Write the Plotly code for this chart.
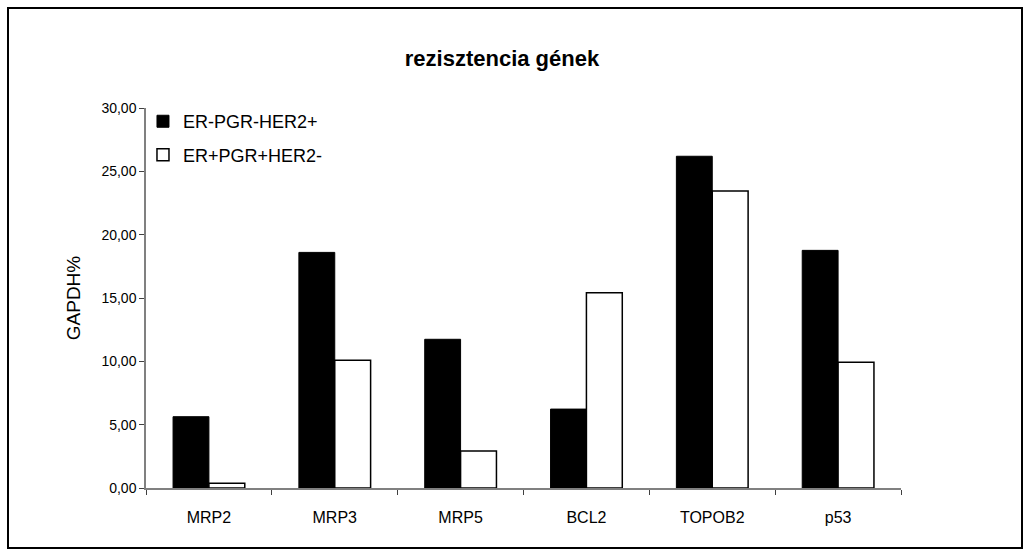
import plotly.graph_objects as go

# Gene expression relative to GAPDH, two receptor subgroups
genes = ["MRP2", "MRP3", "MRP5", "BCL2", "TOPOB2", "p53"]
er_neg_her2_pos = [5.63, 18.60, 11.74, 6.23, 26.19, 18.76]
er_pos_her2_neg = [0.37, 10.08, 2.92, 15.42, 23.45, 9.92]

FONT = "Liberation Sans, Arial, sans-serif"

fig = go.Figure()
fig.add_trace(go.Bar(
    x=genes, y=er_neg_her2_pos, name="ER-PGR-HER2+", legendgroup="a",
    marker=dict(color="black", line=dict(color="black", width=1)),
))
fig.add_trace(go.Bar(
    x=genes, y=er_pos_her2_neg, name="ER+PGR+HER2-", legendgroup="b",
    marker=dict(color="white", line=dict(color="black", width=1.5)),
))

fig.update_layout(
    width=1031, height=554,
    margin=dict(l=146, r=130, t=108, b=66),
    paper_bgcolor="white", plot_bgcolor="white",
    separators=", ",
    barmode="group", bargap=0.43, bargroupgap=0,
    font=dict(family=FONT, size=14, color="black"),
    title=dict(
        text="<b>rezisztencia gének</b>",
        x=502 / 1031, xanchor="center",
        y=1 - 58 / 554, yanchor="middle",
        font=dict(family=FONT, size=22, color="black"),
    ),
    showlegend=True,
    legend=dict(
        x=-0.004, y=1.013, xanchor="left", yanchor="top",
        bgcolor="rgba(0,0,0,0)", borderwidth=0,
        traceorder="grouped", tracegroupgap=7,
        font=dict(family=FONT, size=18, color="black"),
    ),
    xaxis=dict(
        showline=True, linecolor="#808080", linewidth=1.5,
        ticks="outside", ticklen=5, tickcolor="#404040",
        tickson="boundaries", showgrid=False,
        tickfont=dict(size=16), ticklabelstandoff=14,
    ),
    yaxis=dict(
        range=[0, 30], dtick=5, tickformat=".2f",
        showline=True, linecolor="#808080", linewidth=1.5,
        ticks="outside", ticklen=5, tickcolor="#404040",
        showgrid=False, zeroline=False,
        tickfont=dict(size=14),
        title=dict(text="GAPDH%", font=dict(family=FONT, size=19), standoff=16),
    ),
    shapes=[dict(
        type="rect", xref="paper", yref="paper",
        x0=(8 - 146) / 755, x1=(1022 - 146) / 755,
        y0=(488 - 548) / 380, y1=(488 - 8) / 380,
        line=dict(color="black", width=2), fillcolor="rgba(0,0,0,0)",
        layer="below",
    )],
)

fig.write_html("out.html")
